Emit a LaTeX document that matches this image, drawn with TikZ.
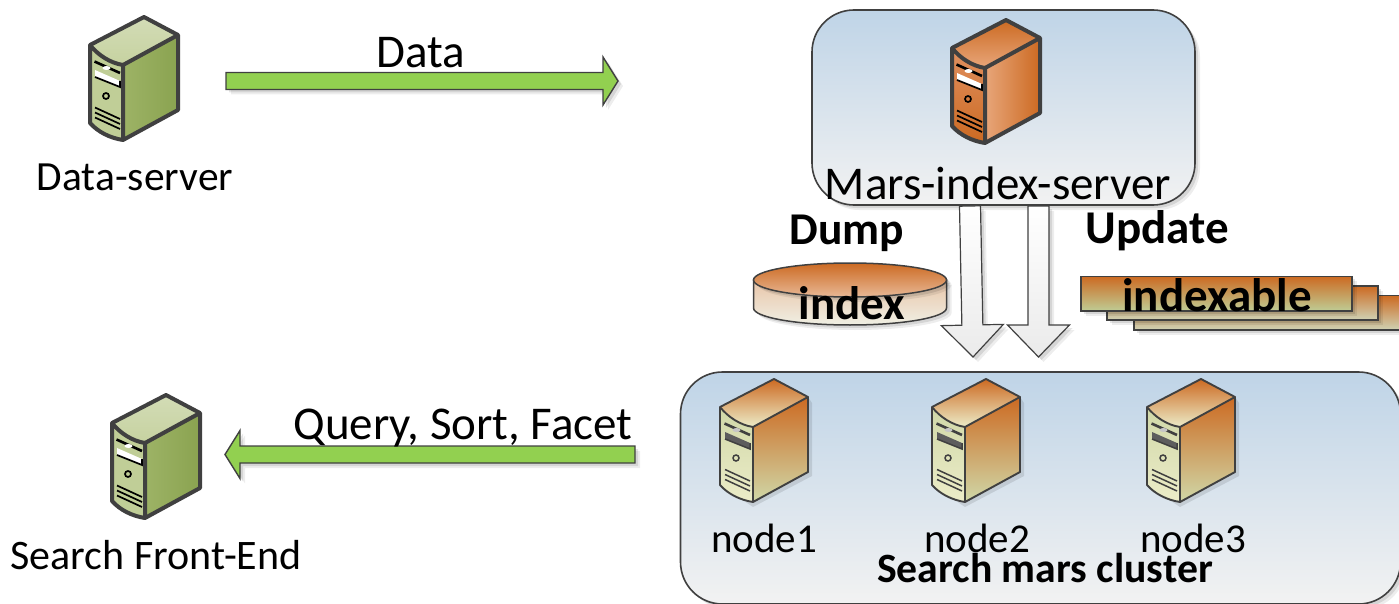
\documentclass[tikz,border=0pt]{standalone}
\usepackage{fontspec}
\setmainfont{Carlito}
\usetikzlibrary{calc,shapes.geometric}
\definecolor{outl}{HTML}{404040}
\tikzset{
  softshadow/.style={
    preaction={draw=none,fill=black,fill opacity=.07,transform canvas={xshift=5pt,yshift=-5pt}},
    preaction={draw=none,fill=black,fill opacity=.10,transform canvas={xshift=3pt,yshift=-3pt}}},
  groupbox/.style={draw=outl,line width=1.6pt,rounded corners=42pt,inner sep=0pt,top color=boxtop,bottom color=boxbot,softshadow},
  blockgreen/.style={draw=outl,line width=1.4pt,fill=arrowgreen,line join=miter,softshadow},
  blockwhite/.style={draw=outl,line width=1.2pt,top color=white,bottom color=white!92!black,softshadow},
  lab/.style={font=\fontsize{#1}{#1}\selectfont,inner sep=0pt,text=black},
  blab/.style={font=\fontsize{#1}{#1}\selectfont\bfseries,inner sep=0pt,text=black},
  sheet/.style={draw=outl,line width=1.5pt,softshadow},
  greenpal/.style={
    srvtop/.style={top color=srvgreenA,bottom color=srvgreenB},
    srvside/.style={left color=srvgreenD,right color=srvgreenC},
    srvfront/.style={fill=srvgreenE},
    srvline/.style={draw=outl,line width=4pt,line join=round},
    srvedge/.style={draw=white,line width=1.6pt},
    srvcurve/.style={draw=srvbrown,line width=1.3pt},
    srvmark/.style={draw=black,line width=1.7pt},
    srvslot/.style={fill=white},
    srvblip/.style={fill=white},
    srvhalo/.style={opacity=0}},
  orangepal/.style={
    srvtop/.style={top color=srvorA,bottom color=srvorB},
    srvside/.style={left color=srvorB,right color=srvorA},
    srvfront/.style={top color=srvorC,bottom color=srvorA},
    srvline/.style={draw=outl,line width=4pt,line join=round},
    srvedge/.style={draw=white,line width=1.6pt},
    srvcurve/.style={draw=srvbrown,line width=1.3pt},
    srvmark/.style={draw=black,line width=1.7pt},
    srvslot/.style={fill=white},
    srvblip/.style={fill=white},
    srvhalo/.style={opacity=0}},
  nodepal/.style={
    srvtop/.style={top color=srvorA,bottom color=srvcreamB},
    srvside/.style={top color=srvorA,bottom color=srvcreamA},
    srvfront/.style={top color=srvcreamA,bottom color=srvcreamB},
    srvline/.style={draw=outl,line width=1.9pt,line join=round},
    srvedge/.style={draw=none},
    srvcurve/.style={draw=none},
    srvmark/.style={draw=outl,line width=1.5pt},
    srvslot/.style={fill=outl!85!white},
    srvblip/.style={fill=outl!30!white},
    srvhalo/.style={opacity=.10}},
  server/.pic={
    \fill[black,srvhalo] (33,128)--(92,97)--(92,24)--(88,18)--(0,106)--cycle;
    \path[srvtop] (0,28)--(54,0)--(88,18)--(33,48) .. controls (20,46) and (8,38) .. (0,28)--cycle;
    \path[srvside] (33,48)--(88,18)--(88,93)--(33,123)--cycle;
    \path[srvfront] (0,28) .. controls (8,38) and (20,46) .. (33,48)--(33,123) .. controls (20,121) and (8,115) .. (0,106)--cycle;
    \draw[srvcurve] (2,32) .. controls (10,40) and (20,46) .. (33,48);
    \draw[srvedge] (33,48)--(87,18);
    \draw[srvedge] (33,48)--(33,122);
    \fill[srvslot] (5,53)--(30,64)--(30,70)--(5,60)--cycle;
    \draw[srvmark,line width=2.6pt] (4.5,44.5) -- (30,56);
    \draw[srvmark] (30,64)--(30,70)--(5,60);
    \fill[srvblip] (16.5,51) ellipse (4 and 2);
    \draw[srvmark] (16,79) circle (3);
    \draw[srvmark] (5,90.5)--(30,102);
    \draw[srvmark] (5,95.5)--(30,107);
    \draw[srvmark] (5,100.5)--(30,112);
    \draw[srvline] (33,48)--(88,18);
    \draw[srvline] (0,28) .. controls (8,38) and (20,46) .. (33,48)--(33,123);
    \draw[srvline] (0,28)--(54,0)--(88,18)--(88,93)--(33,123) .. controls (20,121) and (8,115) .. (0,106)--cycle;
  }
}
% #1 style, #2 from, #3 to, #4 half shaft, #5 half head, #6 head length
\newcommand\blockarrow[6]{%
  \path[#1]
    ($(#2)!#4pt!90:(#3)$) --
    ($($(#3)!#6pt!(#2)$)!#4pt!90:(#3)$) --
    ($($(#3)!#6pt!(#2)$)!#5pt!90:(#3)$) --
    (#3) --
    ($($(#3)!#6pt!(#2)$)!#5pt!-90:(#3)$) --
    ($($(#3)!#6pt!(#2)$)!#4pt!-90:(#3)$) --
    ($(#2)!#4pt!-90:(#3)$) -- cycle;}
\definecolor{boxtop}{HTML}{BFD4E7}
\definecolor{boxbot}{HTML}{F2F2F2}
\definecolor{arrowgreen}{HTML}{92D050}
\definecolor{srvgreenA}{HTML}{D3DCB6}
\definecolor{srvgreenB}{HTML}{C6D2A0}
\definecolor{srvgreenC}{HTML}{8AA350}
\definecolor{srvgreenD}{HTML}{9DB366}
\definecolor{srvgreenE}{HTML}{C0CE97}
\definecolor{srvbrown}{HTML}{B8905F}
\definecolor{srvorA}{HTML}{CC6A22}
\definecolor{srvorB}{HTML}{E8A67A}
\definecolor{srvorC}{HTML}{E09060}
\definecolor{srvcreamA}{HTML}{D0D8A8}
\definecolor{srvcreamB}{HTML}{ECECC8}
\definecolor{sheetgreen}{HTML}{BFCC94}
\definecolor{sheetpale}{HTML}{CFD2B4}
\definecolor{cylA}{HTML}{CC6A22}
\definecolor{cylB}{HTML}{E8C4A8}
\definecolor{cylC}{HTML}{F0F0E4}
\begin{document}
\begin{tikzpicture}[x=1pt,y=-1pt]
\useasboundingbox (0,0) rectangle (1399,604);
\clip (0,0) rectangle (1399,604);
% group boxes
\node[groupbox,minimum width=383pt,minimum height=195pt] (indexbox) at (1003.5,107.5) {};
\node[groupbox,minimum width=720pt,minimum height=232pt] (clusterbox) at (1040.5,488) {};
% servers
\begin{scope}[greenpal]
  \pic (dataserver) at (90,17) {server};
  \pic (frontend) at (112,395) {server};
\end{scope}
\begin{scope}[orangepal]
  \pic (indexserver) at (952,20) {server};
\end{scope}
\begin{scope}[nodepal]
  \pic (srvone) at (720,379) {server};
  \pic (srvtwo) at (932,379) {server};
  \pic (srvthree) at (1147,379) {server};
\end{scope}
% green block arrows
\coordinate (dataA) at (226,81);
\coordinate (dataB) at (618,81);
\coordinate (queryA) at (635,454.5);
\coordinate (queryB) at (225,454.5);
\blockarrow{blockgreen}{dataA}{dataB}{8.5}{24}{15}
\blockarrow{blockgreen}{queryA}{queryB}{8.5}{24}{15}
% sheets
\path[sheet,top color=srvorA,bottom color=sheetpale] (1134,295.5) rectangle (1410,330);
\path[sheet,top color=srvorA,bottom color=sheetpale] (1107,286) rectangle (1378,320);
\node[sheet,minimum width=271pt,minimum height=34.5pt,inner sep=0pt,top color=srvorA,bottom color=sheetgreen] (indexablebox) at (1216.5,293.5) {};
% cylinder
\path[sheet,top color=cylB,bottom color=cylC] (753.5,280) -- (753.5,308) arc (180:0:96.5 and 17) -- (946.5,280) -- cycle;
\path[sheet,softshadow/.style={},top color=cylA,bottom color=cylB!60!srvorB] (850,280) ellipse (96.5 and 17);
% white block arrows
\coordinate (dumpA) at (970,206);
\coordinate (dumpB) at (973,357);
\coordinate (updateA) at (1038.5,206);
\coordinate (updateB) at (1038.5,357);
\blockarrow{blockwhite}{dumpA}{dumpB}{10.5}{31}{32}
\blockarrow{blockwhite}{updateA}{updateB}{10.5}{31}{32}
% labels
\node[lab=47] (datalabel) at (421,53) {Data};
\node[lab=41.5] (dataserverlabel) at (135,177) {Data-server};
\node[lab=47] (queryLabel) at (463,428) {Query, Sort, Facet};
\node[lab=42] (frontlabel) at (156,555) {Search Front-End};
\node[lab=47] (marslabel) at (998,183) {Mars-index-server};
\node[blab=45.5] (dumplabel) at (847,233) {Dump};
\node[blab=47] (updatelabel) at (1157,231) {Update};
\node[blab=47] (indexlabel) at (852,303) {index};
\node[blab=47] (indexablelabel) at (1217,295) {indexable};
\node[lab=41] (nodeonelabel) at (764,538) {node1};
\node[lab=41] (nodetwolabel) at (977,538) {node2};
\node[lab=41] (nodethreelabel) at (1193,538) {node3};
\node[blab=41.7] (clusterlabel) at (1045,568) {Search mars cluster};
\end{tikzpicture}
\end{document}
